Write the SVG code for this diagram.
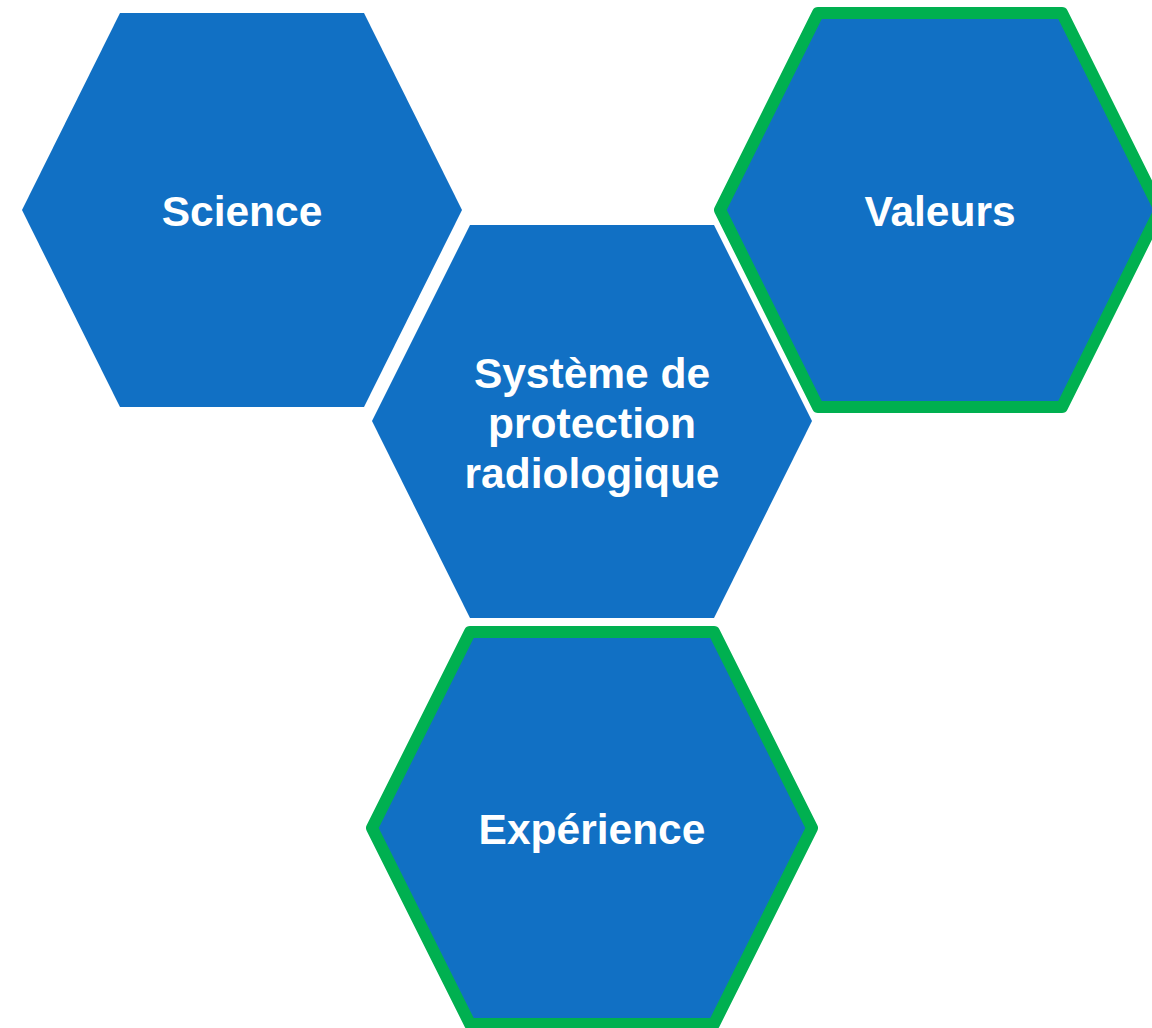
<svg xmlns="http://www.w3.org/2000/svg" width="1152" height="1028" viewBox="0 0 1152 1028">
  <style>
    .hex { fill: #1170C4; }
    .hex-accent { fill: #1170C4; stroke: #00B050; stroke-width: 12; stroke-linejoin: round; }
    .label { fill: #FFFFFF; font-family: "Liberation Sans", Arial, sans-serif; font-weight: bold; font-size: 42.5px; text-anchor: middle; }
  </style>
  <rect width="1152" height="1028" fill="#FFFFFF"/>

  <g id="science">
    <polygon class="hex" points="22,210 120,13 364,13 462,210 364,407 120,407"/>
    <text class="label" x="242" y="226">Science</text>
  </g>

  <g id="valeurs">
    <polygon class="hex-accent" points="720,210 818,13 1062,13 1160,210 1062,407 818,407"/>
    <text class="label" x="940" y="226">Valeurs</text>
  </g>

  <g id="systeme">
    <polygon class="hex" points="372,421 470,225 714,225 812,421 714,618 470,618"/>
    <text class="label" x="592" y="388">Système de</text>
    <text class="label" x="592" y="438">protection</text>
    <text class="label" x="592" y="488">radiologique</text>
  </g>

  <g id="experience">
    <polygon class="hex-accent" points="372,828 470,632 714,632 812,828 714,1024 470,1024"/>
    <text class="label" x="592" y="844">Expérience</text>
  </g>

  <g id="connectors"></g>
</svg>
